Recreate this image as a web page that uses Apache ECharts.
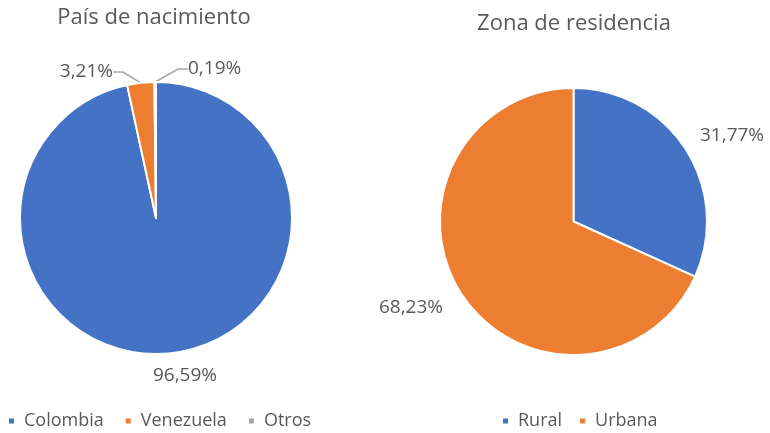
<!DOCTYPE html>
<html><head><meta charset="utf-8">
<script src="https://cdn.jsdelivr.net/npm/echarts@6/dist/echarts.min.js"></script>
<style>html,body{margin:0;padding:0;background:#fff}#c{width:770px;height:433px}</style>
</head><body><div id="c"></div>
<script>
const titleLeft = 'País de nacimiento';
const titleRight = 'Zona de residencia';
const paisCategories = ['Colombia', 'Venezuela', 'Otros'];
const paisValues = [96.59, 3.21, 0.19];
const zonaCategories = ['Rural', 'Urbana'];
const zonaValues = [31.77, 68.23];
const colorsPais = ['#4472C4', '#ED7D31', '#A5A5A5'];
const colorsZona = ['#4472C4', '#ED7D31'];
const FONT = 'Open Sans';
const TXT = '#595959';
const fmt = p => p.value.toFixed(2).replace('.', ',') + '%';

// label anchor placement (x, y, align) mimicking the original data-label layout
const paisLabelPos = [[185, 376, 'center'], [113, 72, 'right'], [188, 69, 'left']];
const zonaLabelPos = [[700, 136, 'left'], [443, 308, 'right']];
const placeLabel = pos => p => ({
  x: pos[p.dataIndex][0], y: pos[p.dataIndex][1],
  align: pos[p.dataIndex][2], verticalAlign: 'middle'
});

const chart = echarts.init(document.getElementById('c'));
chart.setOption({
  animation: false,
  textStyle: {fontFamily: FONT, color: TXT},
  title: [
    {text: titleLeft, left: 149, top: 2, textAlign: 'center', textStyle: {fontFamily: FONT, fontSize: 22, fontWeight: 'normal', color: TXT}},
    {text: titleRight, left: 569, top: 8, textAlign: 'center', textStyle: {fontFamily: FONT, fontSize: 22, fontWeight: 'normal', color: TXT}}
  ],
  legend: [
    {data: paisCategories, left: 7, top: 412, padding: 0, itemWidth: 7, itemHeight: 7, itemGap: 20, icon: 'rect',
     textStyle: {fontFamily: FONT, fontSize: 18, color: TXT, padding: [0, 0, 0, 4]}},
    {data: zonaCategories, left: 501, top: 412, padding: 0, itemWidth: 7, itemHeight: 7, itemGap: 16, icon: 'rect',
     textStyle: {fontFamily: FONT, fontSize: 18, color: TXT, padding: [0, 0, 0, 4]}}
  ],
  series: [
    {
      type: 'pie', center: [156, 218], radius: 136, startAngle: 90, clockwise: true,
      itemStyle: {borderColor: '#fff', borderWidth: 2},
      label: {show: true, position: 'outside', overflow: 'none', formatter: fmt, fontFamily: FONT, fontSize: 19, color: TXT},
      labelLine: {show: true, length: 8, length2: 10, lineStyle: {color: '#A6A6A6', width: 1.5}},
      labelLayout: placeLabel(paisLabelPos),
      data: paisCategories.map((n, i) => {
        const d = {name: n, value: paisValues[i], itemStyle: {color: colorsPais[i]}};
        if (i === 0) { d.labelLine = {show: false}; }
        return d;
      })
    },
    {
      type: 'pie', center: [573.5, 221.5], radius: 133.5, startAngle: 90, clockwise: true,
      itemStyle: {borderColor: '#fff', borderWidth: 2},
      label: {show: true, position: 'outside', overflow: 'none', formatter: fmt, fontFamily: FONT, fontSize: 19, color: TXT},
      labelLine: {show: false},
      labelLayout: placeLabel(zonaLabelPos),
      data: zonaCategories.map((n, i) => ({name: n, value: zonaValues[i], itemStyle: {color: colorsZona[i]}}))
    }
  ]
});
</script></body></html>
